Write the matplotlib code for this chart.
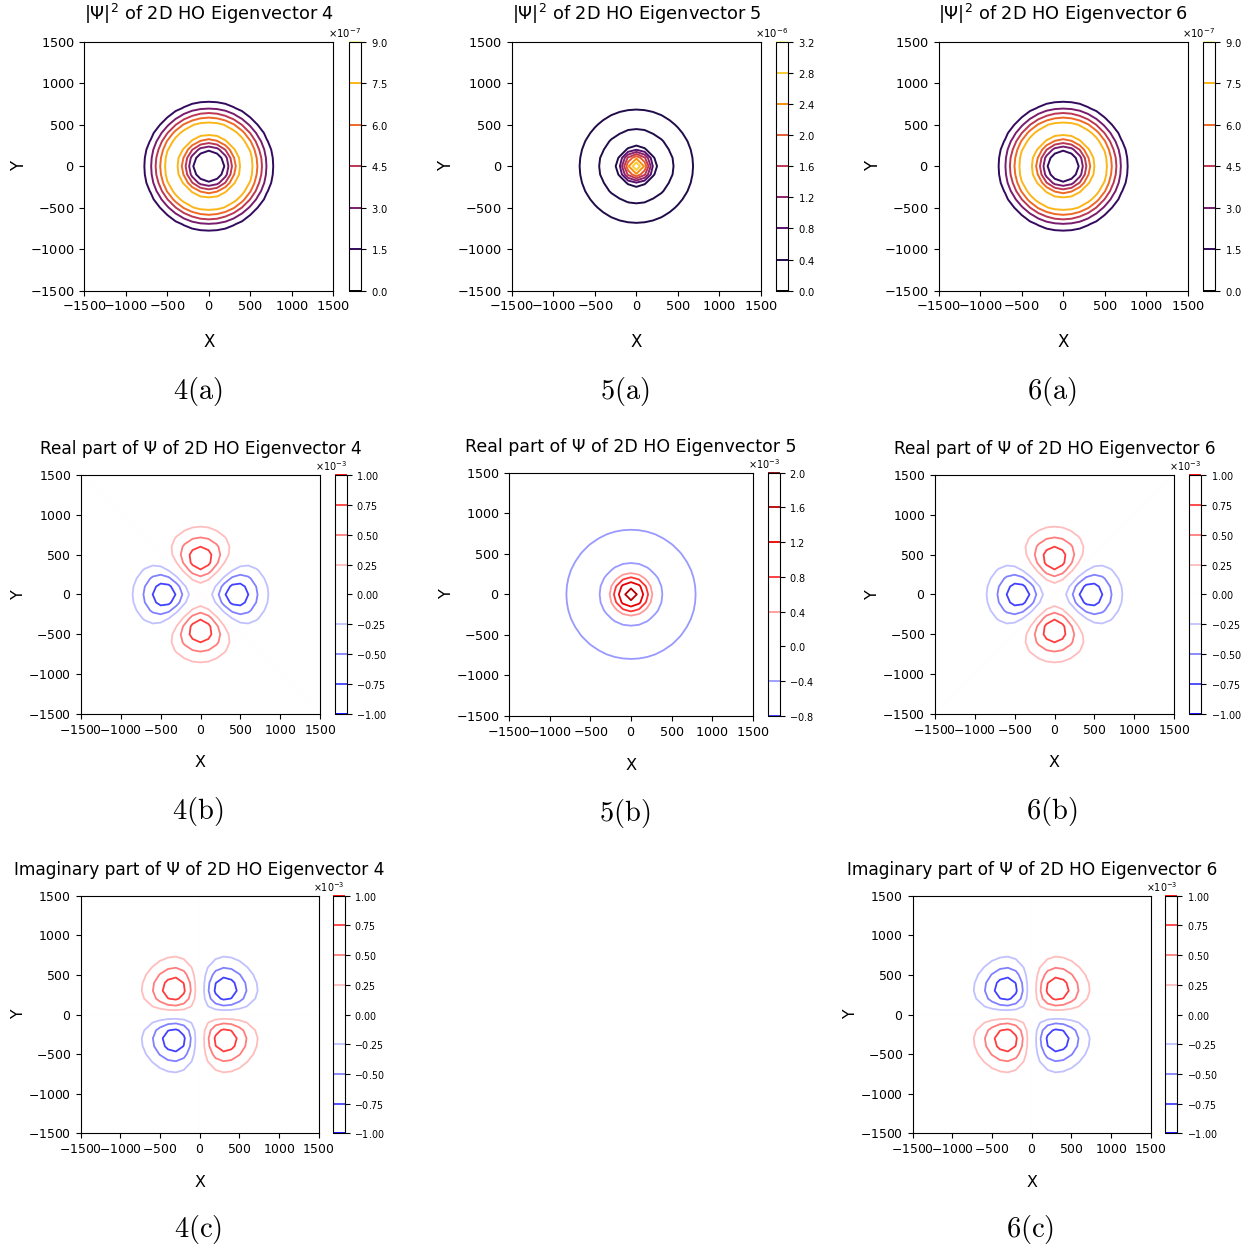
"""Densidades e partes real/imaginaria dos autovetores 4, 5 e 6 do oscilador 2D."""
import matplotlib

matplotlib.use("Agg")

import matplotlib.pyplot as plt
import numpy as np
from matplotlib.ticker import ScalarFormatter

plt.rcParams["axes.formatter.use_mathtext"] = True
plt.rcParams["mathtext.fontset"] = "dejavusans"

FIG_W, FIG_H = 1256, 1253

# malha usada no calculo (passo de 100 nas duas direcoes)
X_MIN, X_MAX, X_STEP = -1500, 1500, 100
A2 = 1.0e5  # comprimento do oscilador ao quadrado

TICKS = [-1500, -1000, -500, 0, 500, 1000, 1500]

LEVELS_ABS_46 = [0.0, 1.5e-7, 3.0e-7, 4.5e-7, 6.0e-7, 7.5e-7, 9.0e-7]
LEVELS_ABS_5 = [0.0, 0.4e-6, 0.8e-6, 1.2e-6, 1.6e-6, 2.0e-6, 2.4e-6, 2.8e-6, 3.2e-6]
LEVELS_PART_46 = [-1.0e-3, -0.75e-3, -0.5e-3, -0.25e-3, 0.0, 0.25e-3, 0.5e-3, 0.75e-3, 1.0e-3]
LEVELS_PART_5 = [-0.8e-3, -0.4e-3, 0.0, 0.4e-3, 0.8e-3, 1.2e-3, 1.6e-3, 2.0e-3]
PART_LIMIT = 2.0e-3

TITLES = {
    "abs": r"|Ψ|$^2$ of 2D HO Eigenvector {n}",
    "real": "Real part of Ψ of 2D HO Eigenvector {n}",
    "imag": "Imaginary part of Ψ of 2D HO Eigenvector {n}",
}

# (autovetor, tipo, legenda, eixo [esq, topo, dir, base] px, colorbar [esq, dir] px, centro legenda px, escala fonte)
PAINEIS = [
    (4, "abs", "4(a)", (84.3, 41.7, 333.3, 290.7), (348.7, 361.0), (198, 391), 1.0),
    (5, "abs", "5(a)", (511.7, 41.7, 761.0, 290.7), (776.0, 788.3), (625, 391), 1.0),
    (6, "abs", "6(a)", (938.5, 41.7, 1187.8, 290.7), (1203.0, 1215.3), (1052, 391), 1.0),
    (4, "real", "4(b)", (81.0, 475.0, 320.0, 714.0), (334.7, 346.7), (198, 811), 0.96),
    (5, "real", "5(b)", (509.3, 472.7, 752.7, 716.0), (767.7, 779.7), (625, 814), 0.975),
    (6, "real", "6(b)", (935.0, 475.0, 1174.0, 714.0), (1189.0, 1201.0), (1052, 811), 0.96),
    (4, "imag", "4(c)", (80.7, 895.7, 318.7, 1133.3), (332.7, 344.7), (198, 1230), 0.955),
    (6, "imag", "6(c)", (912.7, 895.7, 1150.7, 1133.3), (1165.0, 1177.0), (1030, 1230), 0.955),
]


def psi(n, x, y):
    u = (x**2 + y**2) / A2
    g = np.exp(-u / 2)
    if n == 5:
        c = 1 / np.sqrt(np.pi * A2)
        return c * (1 - u) * g + 0j
    c = 1 / np.sqrt(2 * np.pi * A2**3)
    z = x + 1j * y if n == 4 else x - 1j * y
    return -c * z**2 * g


def box(left, top, right, bottom):
    return [left / FIG_W, 1 - bottom / FIG_H, (right - left) / FIG_W, (bottom - top) / FIG_H]


def main():
    xs = np.arange(X_MIN, X_MAX + X_STEP, X_STEP, dtype=float)
    X, Y = np.meshgrid(xs, xs)

    fig = plt.figure(figsize=(FIG_W / 100, FIG_H / 100), dpi=100)

    for n, tipo, legenda, ax_px, cb_px, cap_px, s in PAINEIS:
        campo = psi(n, X, Y)
        ax = fig.add_axes(box(*ax_px))
        cax = fig.add_axes(box(cb_px[0], ax_px[1], cb_px[1], ax_px[3]))

        if tipo == "abs":
            niveis = LEVELS_ABS_5 if n == 5 else LEVELS_ABS_46
            cs = ax.contour(X, Y, np.abs(campo) ** 2, levels=niveis, cmap="inferno", linewidths=1.4)
        else:
            niveis = LEVELS_PART_5 if n == 5 else LEVELS_PART_46
            z = campo.real if tipo == "real" else campo.imag
            cs = ax.contour(X, Y, z, levels=niveis, cmap="seismic",
                            vmin=-PART_LIMIT, vmax=PART_LIMIT, linewidths=1.3)

        ax.set_xlim(X_MIN, X_MAX)
        ax.set_ylim(X_MIN, X_MAX)
        ax.set_xticks(TICKS)
        ax.set_yticks(TICKS)
        ax.tick_params(labelsize=9.3 * s)
        ax.set_title(TITLES[tipo].format(n=n), fontsize=12.8 * s, pad=15.5 * s)
        ax.set_xlabel("X", fontsize=12 * s, labelpad=14 * s)
        ax.set_ylabel("Y", fontsize=12 * s, labelpad=1.5 * s)

        fmt = ScalarFormatter(useMathText=True)
        fmt.set_powerlimits((0, 0))
        cb = fig.colorbar(cs, cax=cax, format=fmt)
        cb.ax.tick_params(labelsize=7.2 * s)
        cb.ax.yaxis.get_offset_text().set_fontsize(7.2 * s)

        fig.text(cap_px[0] / FIG_W, 1 - cap_px[1] / FIG_H, r"$\mathrm{" + legenda + "}$",
                 math_fontfamily="cm", fontsize=20.5, ha="center", va="center")

    fig.savefig("out.png", dpi=100)
    plt.close(fig)


if __name__ == "__main__":
    main()
